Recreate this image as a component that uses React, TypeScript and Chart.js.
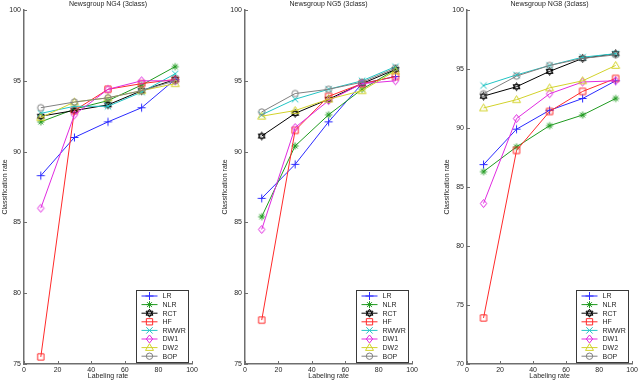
import React, { useEffect, useRef } from 'react';
import { Chart, registerables } from 'chart.js';

Chart.register(...registerables);

// ---------- data ----------
const labelingRates = [10, 30, 50, 70, 90];
const methodNames = ['LR', 'NLR', 'RCT', 'HF', 'RWWR', 'DW1', 'DW2', 'BOP'];
const xTickValues = [0, 20, 40, 60, 80, 100];
const yTicksNG4 = [75, 80, 85, 90, 95, 100];
const yTicksNG5 = [75, 80, 85, 90, 95, 100];
const yTicksNG8 = [70, 75, 80, 85, 90, 95, 100];

const NG4_LR = [88.3, 91.0, 92.1, 93.1, 95.1];
const NG4_NLR = [92.1, 93.0, 93.6, 94.7, 96.0];
const NG4_RCT = [92.5, 92.9, 93.3, 94.3, 95.1];
const NG4_HF = [75.5, 92.9, 94.4, 94.8, 95.1];
const NG4_RWWR = [92.7, 93.2, 93.2, 94.2, 95.5];
const NG4_DW1 = [86.0, 92.6, 94.4, 95.0, 95.0];
const NG4_DW2 = [92.4, 93.5, 93.8, 94.3, 94.8];
const NG4_BOP = [93.1, 93.5, 93.8, 94.3, 95.0];

const NG5_LR = [86.7, 89.1, 92.1, 94.8, 95.3];
const NG5_NLR = [85.4, 90.4, 92.6, 94.4, 95.8];
const NG5_RCT = [91.1, 92.7, 93.7, 94.8, 95.8];
const NG5_HF = [78.1, 91.5, 93.9, 94.8, 95.3];
const NG5_RWWR = [92.6, 93.7, 94.4, 95.0, 96.0];
const NG5_DW1 = [84.5, 91.7, 93.6, 94.8, 95.0];
const NG5_DW2 = [92.5, 92.9, 93.7, 94.3, 95.7];
const NG5_BOP = [92.8, 94.1, 94.4, 94.9, 95.9];

const NG8_LR = [86.9, 89.9, 91.5, 92.5, 94.0];
const NG8_NLR = [86.3, 88.4, 90.2, 91.1, 92.5];
const NG8_RCT = [92.7, 93.5, 94.8, 95.9, 96.3];
const NG8_HF = [73.9, 88.1, 91.4, 93.1, 94.2];
const NG8_RWWR = [93.6, 94.5, 95.3, 96.0, 96.3];
const NG8_DW1 = [83.6, 90.8, 92.9, 93.9, 94.0];
const NG8_DW2 = [91.7, 92.4, 93.4, 94.0, 95.3];
const NG8_BOP = [92.9, 94.4, 95.3, 95.9, 96.2];

// ---------- styles ----------
const colors = ['#2a2aff', '#1f9a1f', '#000000', '#ff2a2a', '#22c4c4', '#e02ae0', '#d2d22a', '#808080'];
const markers = ['cross', 'star', 'hexagram', 'rect', 'crossRot', 'rectRot', 'triangle', 'circle'];
const markerRadius = [4, 3.5, 4, 4.2, 3.2, 4, 4, 3.2];
const FONT_FAMILY = '"Liberation Sans", Arial, Helvetica, sans-serif';
const TEXT_COLOR = '#262626';
const AXIS_COLOR = '#6e6e6e';

function drawMarker(ctx: CanvasRenderingContext2D, style: string, x: number, y: number, r: number, color: string) {
  ctx.save();
  ctx.strokeStyle = color;
  ctx.lineWidth = 1;
  ctx.beginPath();
  if (style === 'cross') {
    ctx.moveTo(x - r, y); ctx.lineTo(x + r, y);
    ctx.moveTo(x, y - r); ctx.lineTo(x, y + r);
  } else if (style === 'crossRot') {
    ctx.moveTo(x - r, y - r); ctx.lineTo(x + r, y + r);
    ctx.moveTo(x - r, y + r); ctx.lineTo(x + r, y - r);
  } else if (style === 'star') {
    const d = r * 0.7;
    ctx.moveTo(x - r, y); ctx.lineTo(x + r, y);
    ctx.moveTo(x, y - r); ctx.lineTo(x, y + r);
    ctx.moveTo(x - d, y - d); ctx.lineTo(x + d, y + d);
    ctx.moveTo(x - d, y + d); ctx.lineTo(x + d, y - d);
  } else if (style === 'hexagram') {
    for (let t = 0; t < 2; t++) {
      for (let k = 0; k < 3; k++) {
        const a = -Math.PI / 2 + t * Math.PI + k * (2 * Math.PI / 3);
        const px = x + r * Math.cos(a), py = y + r * Math.sin(a);
        if (k === 0) ctx.moveTo(px, py); else ctx.lineTo(px, py);
      }
      ctx.closePath();
    }
  } else if (style === 'rect') {
    const s = r * 0.75;
    ctx.rect(x - s, y - s, 2 * s, 2 * s);
  } else if (style === 'rectRot') {
    ctx.moveTo(x, y - r); ctx.lineTo(x + r * 0.8, y); ctx.lineTo(x, y + r); ctx.lineTo(x - r * 0.8, y); ctx.closePath();
  } else if (style === 'triangle') {
    ctx.moveTo(x, y - r); ctx.lineTo(x + r, y + r * 0.7); ctx.lineTo(x - r, y + r * 0.7); ctx.closePath();
  } else {
    ctx.arc(x, y, r, 0, Math.PI * 2);
  }
  ctx.stroke();
  ctx.restore();
}

function makeMarkerImage(style: string, r: number, color: string): HTMLCanvasElement {
  const size = Math.ceil(r * 2 + 3);
  const c = document.createElement('canvas');
  c.width = size;
  c.height = size;
  const ctx = c.getContext('2d')!;
  drawMarker(ctx, style, size / 2, size / 2, r, color);
  return c;
}

type PanelProps = {
  left: number;
  width: number;
  title: string;
  series: number[][];
  yTicks: number[];
  padLeft: number;
  padRight: number;
  yTitlePad: number;
};

function Panel({ left, width, title, series, yTicks, padLeft, padRight, yTitlePad }: PanelProps) {
  const ref = useRef<HTMLCanvasElement | null>(null);

  useEffect(() => {
    const canvas = ref.current;
    if (!canvas) return;
    const font = { family: FONT_FAMILY, size: 7 };

    const decor = {
      id: 'decor',
      afterDraw(chart: any) {
        const { ctx, chartArea: ca, scales } = chart;
        ctx.save();
        // inward tick marks
        ctx.strokeStyle = AXIS_COLOR;
        ctx.lineWidth = 1;
        ctx.beginPath();
        xTickValues.forEach((v) => {
          const px = Math.round(scales.x.getPixelForValue(v)) + 0.5;
          ctx.moveTo(px, ca.bottom);
          ctx.lineTo(px, ca.bottom - 3);
        });
        yTicks.forEach((v) => {
          const py = Math.round(scales.y.getPixelForValue(v)) + 0.5;
          ctx.moveTo(ca.left, py);
          ctx.lineTo(ca.left + 3, py);
        });
        ctx.stroke();

        // title
        ctx.fillStyle = TEXT_COLOR;
        ctx.font = `7px ${FONT_FAMILY}`;
        ctx.textAlign = 'center';
        ctx.textBaseline = 'middle';
        ctx.fillText(title, (ca.left + ca.right) / 2, 4);

        // legend
        const bw = 52, bh = 72;
        const bx = Math.round(ca.right - 4 - bw) + 0.5;
        const by = Math.round(ca.bottom - 2 - bh) + 0.5;
        ctx.fillStyle = '#ffffff';
        ctx.fillRect(bx, by, bw, bh);
        ctx.strokeStyle = '#3a3a3a';
        ctx.lineWidth = 1;
        ctx.strokeRect(bx, by, bw, bh);
        methodNames.forEach((name, i) => {
          const ry = by + 5.5 + i * 8.6;
          ctx.strokeStyle = colors[i];
          ctx.beginPath();
          ctx.moveTo(bx + 5, ry);
          ctx.lineTo(bx + 21, ry);
          ctx.stroke();
          drawMarker(ctx, markers[i], bx + 13, ry, markerRadius[i], colors[i]);
          ctx.fillStyle = TEXT_COLOR;
          ctx.textAlign = 'left';
          ctx.textBaseline = 'middle';
          ctx.fillText(name, bx + 26, ry + 0.5);
        });
        ctx.restore();
      },
    };

    const chart = new Chart(canvas, {
      type: 'line',
      data: {
        datasets: methodNames.map((name, i) => ({
          label: name,
          data: labelingRates.map((x, j) => ({ x, y: series[i][j] })),
          borderColor: colors[i],
          borderWidth: 1,
          pointStyle: makeMarkerImage(markers[i], markerRadius[i], colors[i]) as any,
          pointRadius: markerRadius[i],
          pointBorderColor: colors[i],
          pointBackgroundColor: 'rgba(0,0,0,0)',
          tension: 0,
          order: methodNames.length - i,
        })),
      },
      options: {
        animation: false,
        responsive: false,
        events: [],
        layout: { padding: { left: padLeft, right: padRight, top: 10, bottom: 0 } },
        plugins: {
          legend: { display: false },
          tooltip: { enabled: false },
          title: { display: false },
        },
        scales: {
          x: {
            type: 'linear',
            min: 0,
            max: 100,
            afterBuildTicks: (s: any) => {
              s.ticks = xTickValues.map((v) => ({ value: v }));
            },
            afterFit: (s: any) => {
              s.height = 18;
            },
            grid: { display: false, drawTicks: false },
            border: { display: true, color: AXIS_COLOR, width: 1.5 },
            ticks: { font, color: TEXT_COLOR, padding: 2, maxRotation: 0, autoSkip: false },
            title: { display: true, text: 'Labeling rate', font, color: TEXT_COLOR, padding: { top: 0, bottom: 1.8 } },
          },
          y: {
            type: 'linear',
            min: yTicks[0],
            max: yTicks[yTicks.length - 1],
            afterBuildTicks: (s: any) => {
              s.ticks = yTicks.map((v) => ({ value: v }));
            },
            afterFit: (s: any) => {
              s.width = 24;
            },
            grid: { display: false, drawTicks: false },
            border: { display: true, color: AXIS_COLOR, width: 1.5 },
            ticks: { font, color: TEXT_COLOR, padding: 3, autoSkip: false },
            title: { display: true, text: 'Classification rate', font, color: TEXT_COLOR, padding: { top: yTitlePad, bottom: 0 } },
          },
        },
      } as any,
      plugins: [decor],
    });
    return () => chart.destroy();
  }, []);

  return (
    <canvas
      ref={ref}
      width={width}
      height={382}
      style={{ position: 'absolute', left, top: 0, width, height: 382 }}
    />
  );
}

export default function App() {
  const ng4 = [NG4_LR, NG4_NLR, NG4_RCT, NG4_HF, NG4_RWWR, NG4_DW1, NG4_DW2, NG4_BOP];
  const ng5 = [NG5_LR, NG5_NLR, NG5_RCT, NG5_HF, NG5_RWWR, NG5_DW1, NG5_DW2, NG5_BOP];
  const ng8 = [NG8_LR, NG8_NLR, NG8_RCT, NG8_HF, NG8_RWWR, NG8_DW1, NG8_DW2, NG8_BOP];
  return (
    <div style={{ position: 'absolute', left: 0, top: 0, width: 640, height: 382, background: '#ffffff', overflow: 'hidden' }}>
      <Panel left={0} width={210} title="Newsgroup NG4 (3class)" series={ng4} yTicks={yTicksNG4} padLeft={0} padRight={18} yTitlePad={0.8} />
      <Panel left={210} width={210} title="Newsgroup NG5 (3class)" series={ng5} yTicks={yTicksNG5} padLeft={11} padRight={7} yTitlePad={0} />
      <Panel left={420} width={220} title="Newsgroup NG8 (3class)" series={ng8} yTicks={yTicksNG8} padLeft={23} padRight={7} yTitlePad={0} />
    </div>
  );
}
